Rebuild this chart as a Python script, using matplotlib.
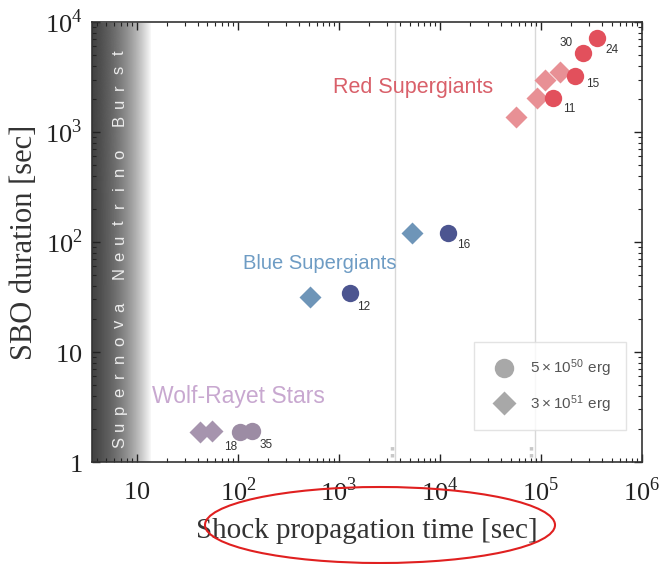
import numpy as np
import matplotlib.pyplot as plt
from matplotlib.patches import Ellipse
from matplotlib.lines import Line2D

plt.rcParams['mathtext.fontset'] = 'custom'
plt.rcParams['mathtext.rm'] = 'Liberation Serif'
plt.rcParams['mathtext.sf'] = 'Liberation Sans'

# shock propagation time [s] and SBO duration [s]
rsg_circ_t = [1.31e5, 2.17e5, 2.6e5, 3.58e5]
rsg_circ_d = [2040, 3230, 5230, 7160]
rsg_labels = ['11', '15', '30', '24']
rsg_dia_t = [5.65e4, 9.1e4, 1.1e5, 1.54e5]
rsg_dia_d = [1370, 2040, 2970, 3510]

bsg_circ_t = [1285, 1.2e4]
bsg_circ_d = [34.4, 121]
bsg_labels = ['12', '16']
bsg_dia_t = [516, 5280]
bsg_dia_d = [31.6, 121]

wr_circ_t = [105, 138]
wr_circ_d = [1.87, 1.91]
wr_labels = ['18', '35']
wr_dia_t = [42, 55]
wr_dia_d = [1.87, 1.91]

hour = 3600.0
day = 86400.0

fig = plt.figure(figsize=(6.64, 5.64), dpi=100)
ax = fig.add_axes([0.1386, 0.181, 0.8284, 0.780])
ax.set_xscale('log')
ax.set_yscale('log')

# neutrino burst band
grad = np.linspace(0, 1, 256).reshape(1, -1)
ax.imshow(grad, extent=[3.6, 14, 1, 1e4], aspect='auto', cmap='gray',
          vmin=-0.35, vmax=1.0, zorder=0, interpolation='bicubic')
ax.set_xlim(3.6, 1e6)
ax.set_ylim(1, 1e4)

# spaced-out vertical caption, one letter at a time
band_text = 'Supernova Neutrino Burst'
ys = np.linspace(0.043, 0.93, len(band_text))
for ch, yy in zip(band_text, ys):
    ax.text(0.058, yy, ch, transform=ax.transAxes, rotation=90, rotation_mode='anchor',
            ha='center', va='baseline', color='#ececec', fontsize=12,
            family='Liberation Sans', zorder=2)

# one hour / one day
for t in (hour, day):
    ax.axvline(t, color='#d8d8d8', lw=1.0, zorder=1)
for t in (hour * 0.92, day * 0.92):
    ax.plot([t, t], [1.12, 1.45], color='#c8c8c8', lw=2.5, ls=(0, (1, 1)), zorder=1)

ms_c = 12.5
ms_d = 11
ax.plot(rsg_dia_t, rsg_dia_d, 'D', color='#e89095', ms=ms_d, mec='none', zorder=3)
ax.plot(rsg_circ_t, rsg_circ_d, 'o', color='#e2505c', ms=ms_c, mec='none', zorder=4)
ax.plot(bsg_dia_t, bsg_dia_d, 'D', color='#6e95b8', ms=ms_d, mec='none', zorder=3)
ax.plot(bsg_circ_t, bsg_circ_d, 'o', color='#4c5590', ms=ms_c, mec='none', zorder=4)
ax.plot(wr_dia_t, wr_dia_d, 'D', color='#a694ae', ms=ms_d, mec='none', zorder=3)
ax.plot(wr_circ_t, wr_circ_d, 'o', color='#9c8ca4', ms=ms_c, mec='none', zorder=4)

# mass labels next to the circles
offsets = {'11': (12, -8), '15': (13, -6), '30': (-12, 7), '24': (11, -9),
           '12': (10, -10), '16': (11, -9), '18': (-7, -11), '35': (10, -10)}
for ts, ds, labs in ((rsg_circ_t, rsg_circ_d, rsg_labels),
                     (bsg_circ_t, bsg_circ_d, bsg_labels),
                     (wr_circ_t, wr_circ_d, wr_labels)):
    for t, d, lab in zip(ts, ds, labs):
        ax.annotate(lab, (t, d), xytext=offsets[lab], textcoords='offset points',
                    ha='center', va='center', fontsize=8.5, color='#333333',
                    family='Liberation Sans', zorder=5)

ax.text(0.438, 0.85, 'Red Supergiants', transform=ax.transAxes, color='#d9606a',
        fontsize=15.5, family='Liberation Sans', ha='left', va='center')
ax.text(0.2745, 0.452, 'Blue Supergiants', transform=ax.transAxes, color='#6e9cc4',
        fontsize=14.5, family='Liberation Sans', ha='left', va='center')
ax.text(0.109, 0.148, 'Wolf-Rayet Stars', transform=ax.transAxes, color='#c8a8d0',
        fontsize=16.5, family='Liberation Sans', ha='left', va='center')

handles = [Line2D([], [], marker='o', ls='none', color='#a8a8a8', ms=14, mec='none'),
           Line2D([], [], marker='D', ls='none', color='#a8a8a8', ms=12, mec='none')]
leg = ax.legend(handles, [r'$\mathsf{5\times10^{50}\ erg}$', r'$\mathsf{3\times10^{51}\ erg}$'],
                loc='lower right', bbox_to_anchor=(0.971, 0.073), fontsize=11,
                frameon=True, fancybox=False, edgecolor='#dddddd', labelcolor='#555555',
                borderpad=1.0, handletextpad=0.7, labelspacing=0.9, borderaxespad=0)
leg.get_frame().set_linewidth(1.0)

ax.set_xticks([10, 1e2, 1e3, 1e4, 1e5, 1e6])
ax.set_xticklabels(['$10$', '$10^2$', '$10^3$', '$10^4$', '$10^5$', '$10^6$'])
ax.set_yticks([1, 10, 1e2, 1e3, 1e4])
ax.set_yticklabels(['$1$', '$10$', '$10^2$', '$10^3$', '$10^4$'])
ax.tick_params(which='both', direction='in', top=True, right=True, color='#222222')
ax.tick_params(which='major', length=6, width=1.0, labelsize=19, colors='#222222')
ax.tick_params(axis='x', which='major', pad=12)
ax.tick_params(axis='y', which='major', pad=7)
ax.tick_params(which='minor', length=3, width=0.8)
for s in ax.spines.values():
    s.set_color('#333333')
    s.set_linewidth(1.2)

ax.set_xlabel('Shock propagation time [sec]', fontsize=21, family='Liberation Serif',
              color='#333333', labelpad=8)
ax.set_ylabel('SBO duration [sec]', fontsize=22, family='Liberation Serif',
              color='#333333', labelpad=4)

fig.add_artist(Ellipse((380 / 664, 1 - 525 / 564), 350 / 664, 76 / 564,
                       transform=fig.transFigure, fill=False, ec='#e02020', lw=1.5))

fig.savefig('out.png', dpi=100)
